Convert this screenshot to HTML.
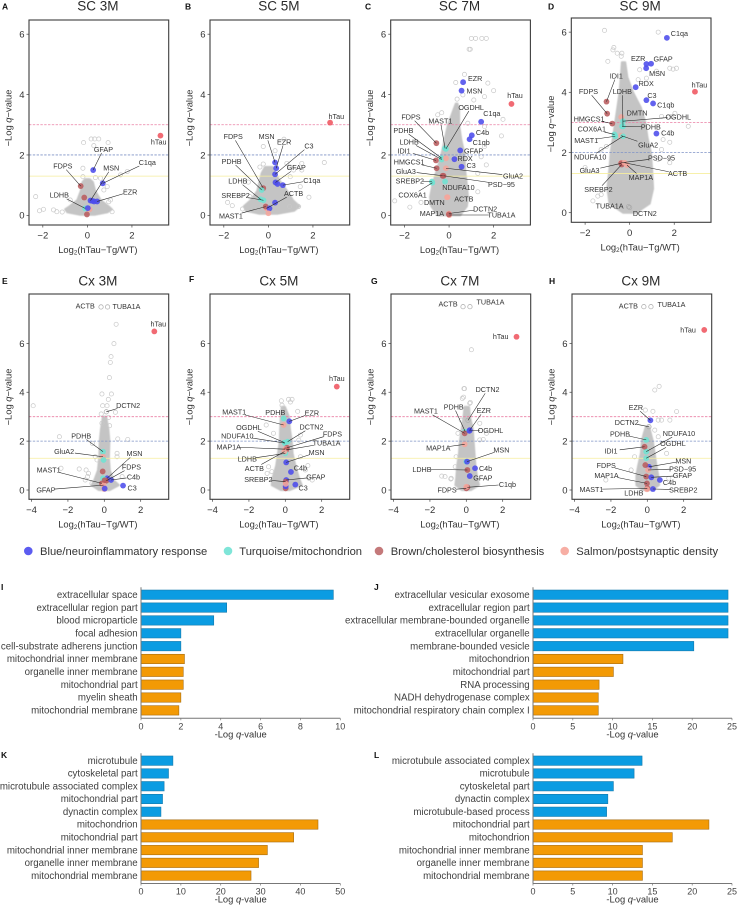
<!DOCTYPE html>
<html lang="en"><head><meta charset="utf-8"><title>Volcano plots and GO enrichment</title>
<style>html,body{margin:0;padding:0;background:#fff}svg{display:block}text{font-family:"Liberation Sans",sans-serif}</style>
</head><body>
<svg id="fig" xmlns="http://www.w3.org/2000/svg" width="738" height="906" viewBox="0 0 738 906">
<defs><filter id="soft" x="-20%" y="-20%" width="140%" height="140%"><feGaussianBlur stdDeviation="0.6"/></filter></defs>
<g font-size="11.2" fill="#333">
<circle cx="28.3" cy="551" r="4.3" fill="#5c5cf0"/>
<text x="40" y="555">Blue/neuroinflammatory response</text>
<circle cx="228" cy="551" r="4.3" fill="#7fe5d8"/>
<text x="239.3" y="555">Turquoise/mitochondrion</text>
<circle cx="379" cy="551" r="4.3" fill="#c4797a"/>
<text x="390.7" y="555">Brown/cholesterol biosynthesis</text>
<circle cx="564.7" cy="551" r="4.3" fill="#f7aea4"/>
<text x="576.3" y="555">Salmon/postsynaptic density</text>
</g>
</svg>
<script>
/* ---------- shared axis values ---------- */
const xTicksSC = [-2, 0, 2];
const xTicksCx = [-4, -2, 0, 2];
const yTicks = [0, 2, 4, 6];
const thresholds = [3, 2, 1.3];

/* ---------- Panel A: SC 3M ---------- */
const A_genes = ["GFAP","MSN","C1qa","EZR","FDPS","","LDHB","","","","","","hTau"];
const A_x = [.26,.14,.69,.44,-.3,-.14,-.1,.1,-.02,.02,.3,.22,3.28];
const A_q = [1.5,.49,1.06,.46,.97,.59,.23,.2,.03,.24,.46,.48,2.64];
const A_mod = ["b","b","b","b","r","r","t","s","r","b","b","b","h"];
const A_labelX = [.72,1.07,2.69,1.92,-1.1,null,-1.26,null,null,null,null,null,3.2];
const A_labelQ = [2.19,1.57,1.76,.78,1.64,null,.67,null,null,null,null,null,2.43];
const A_openX = [.17,.33,.51,-.17,.93,.29,1.79,1.49,-.2,-.2,-2.32,-2.15,-1.97,-1.52,-1.37,-1.13,-.77,1.11,.96,1.04,.74,.89,.59,.36];
const A_openQ = [2.53,2.53,2.53,2.41,2.41,2.31,1.45,1.34,1.56,1.28,.62,.15,.2,.18,.12,.11,.51,.12,.45,.51,.84,.95,1.23,1.25];
const A_cloudQ = [.02,.1,.2,.3,.5,.8,1.1,1.2];
const A_cloudL = [-.35,-.9,-1,-.8,-.45,-.3,-.22,-.1];
const A_cloudR = [.35,.9,1.1,.95,.6,.35,.25,.1];

/* ---------- Panel B: SC 5M ---------- */
const B_genes = ["FDPS","MSN","EZR","C3","GFAP","C1qa","ACTB","PDHB","LDHB","SREBP2","MAST1","","","","","hTau"];
const B_x = [-.23,.3,.35,.3,.32,.65,-.08,-.3,-.35,-.22,-.12,.41,.3,.05,0,2.77];
const B_q = [.9,1.75,1.56,1.36,1.09,1,.23,.84,.53,.5,.29,1.04,.42,.23,.07,3.07];
const B_mod = ["r","b","b","b","b","b","s","t","t","t","r","b","b","b","s","h"];
const B_labelX = [-1.58,-.08,.71,1.82,1.25,1.95,1.13,-1.65,-1.37,-1.47,-1.68,null,null,null,null,3.05];
const B_labelQ = [2.61,2.61,2.44,2.3,1.58,1.16,.73,1.79,1.14,.66,-.02,null,null,null,null,3.28];
const B_openX = [-.23,.3,.7,2.51,-.23,-.38,1.5,1.5,1.43,1.82,1.35,-1.83,-1.62,-1.16,.98,.83,.98,1.13,-.9,-.83,.95];
const B_openQ = [2.28,2.14,2.52,1.75,1.7,1.6,1.72,1.5,.95,.6,.29,.43,.32,.21,1.28,1.72,1.6,1.5,1.1,.62,.29];
const B_cloudQ = [.05,.15,.3,.5,.8,1.1,1.4,1.6];
const B_cloudL = [-.4,-1,-1.1,-.8,-.5,-.4,-.3,-.15];
const B_cloudR = [.4,1.15,1.4,1.1,.85,.55,.3,.2];

/* ---------- Panel C: SC 7M ---------- */
const C_genes = ["EZR","MSN","C1qa","C4b","C1qb","GFAP","RDX","C3","FDPS","MAST1","OGDHL","PDHB","LDHB","IDI1","HMGCS1","GluA3","GluA2","PSD\u221295","SREBP2","NDUFA10","COX6A1","DMTN","ACTB","DCTN2","TUBA1A","MAP1A","","hTau"];
const C_x = [.63,.56,1.44,1.02,.92,.5,.24,.56,-.57,-.18,-.14,-.33,-.33,-.59,-.56,-.29,-.14,-.25,-.77,-.18,-.75,-.09,-.07,-.01,.01,-.01,-.14,2.8];
const C_q = [4.41,4.13,3.1,2.65,2.52,2.15,1.86,1.61,2.39,2.22,2.2,1.89,1.85,1.82,1.56,1.31,1.56,1.31,1.12,1.12,1.08,.6,.6,.06,.01,.03,1.89,3.69];
const C_mod = ["b","b","b","b","b","b","b","b","r","t","t","t","t","r","r","r","s","r","t","t","t","s","s","s","s","r","s","h"];
const C_labelX = [1.17,1.14,1.92,1.5,1.44,1.1,.72,.99,-1.71,-.39,.99,-2.05,-1.79,-2.02,-1.79,-1.94,2.87,2.35,-1.76,.42,-1.64,-.66,.66,1.62,2.35,-.77,null,2.96];
const C_labelQ = [4.53,4.12,3.38,2.75,2.41,2.14,1.89,1.66,3.26,3.12,3.58,2.82,2.44,2.14,1.77,1.46,1.31,1.03,1.14,.93,.67,.43,.54,.22,.01,.07,null,3.97];
const C_openX = [1,1.19,1.47,1.67,.95,.9,.69,.3,1.74,2,.36,1.11,1.59,.62,2.42,2.35,-.33,-.51,.84,1.59,-2.44,-1.76,-1.26,1.44,1.59,1.67,1.29,1.29];
const C_openQ = [5.86,5.86,5.86,5.86,5.5,5.5,4.67,4.4,4.38,4.13,3.85,3.82,3.93,3.99,3.18,2.63,3.4,3.33,3.05,2.94,.48,.27,.43,1.94,2.28,1.67,1.39,.78];
const C_cloudQ = [0,.3,.6,1,1.5,2,2.5,3,3.5,3.7];
const C_cloudL = [-.5,-.8,-.85,-.75,-.55,-.35,-.2,-.05,.2,.3];
const C_cloudR = [.5,.8,.85,.8,.72,.7,.55,.45,.45,.38];

/* ---------- Panel D: SC 9M ---------- */
const D_genes = ["C1qa","GFAP","EZR","MSN","RDX","C3","C1qb","C4b","hTau","IDI1","FDPS","HMGCS1","COX6A1","MAST1","LDHB","DMTN","OGDHL","PDHB","GluA2","NDUFA10","PSD\u221295","GluA3","SREBP2","MAP1A","ACTB","TUBA1A","DCTN2"];
const D_x = [1.67,.96,.75,.74,.27,.75,1.05,1.2,2.93,-1.04,-1.01,-.78,-.68,-.65,-.3,-.38,-.3,-.34,-.38,-.3,-.38,-.38,-.36,-.12,-.23,-.05,0];
const D_q = [5.81,4.95,4.94,4.8,4.17,3.74,3.63,2.63,4.02,3.69,3.29,2.96,2.6,2.54,2.87,3.18,3.04,2.87,2.56,2.54,1.66,1.64,1.6,1.58,1.66,.2,.17];
const D_mod = ["b","b","b","b","b","b","b","b","h","r","r","r","t","t","t","s","t","t","s","t","s","r","r","s","s","o","o"];
const D_labelX = [2.23,1.5,.38,1.23,.74,1,1.62,1.71,3.13,-.6,-1.85,-1.82,-1.7,-1.95,-.33,.33,2.18,.95,.83,-1.77,1.43,-1.8,-1.4,.5,2.15,-.9,.68];
const D_labelQ = [5.96,5.11,5.12,4.63,4.3,3.9,3.58,2.65,4.24,4.55,4.03,3.12,2.78,2.4,4.03,3.31,3.19,2.85,2.25,1.85,1.82,1.4,.77,1.18,1.3,.22,-.02];
const D_openX = [-1.13,-.75,-.71,-.56,-.98,1.28,1.8,2.1,1.95,1.2,2.63,1.8,1.8,-2,-1.43,-1.65,-1.28,-.38,-.35,.38,.45,.75,1.43,2.03,1.88,-1.05,-1.28,1.5,1.43,1.28];
const D_openQ = [6.06,5.41,5.49,5.3,5.03,6,4.8,4.8,4.77,4.7,2.87,2.34,1.66,1.5,.55,.39,.6,5.2,5.3,4.42,4.75,4.47,3.2,3.3,3.2,2.2,2.1,2.43,2.1,1.77];
const D_cloudQ = [0,.3,.8,1.5,2,2.5,3,3.5,4,4.5,5];
const D_cloudL = [-.3,-.9,-1,-.9,-.85,-.75,-.65,-.55,-.45,-.4,-.35];
const D_cloudR = [.3,.9,1.05,1,.95,.8,.7,.5,.15,-.1,-.2];

/* ---------- Panel E: Cx 3M ---------- */
const E_genes = ["ACTB","TUBA1A","DCTN2","hTau","PDHB","GluA2","MSN","FDPS","C4b","C3","MAST1","GFAP","","","","","",""];
const E_x = [-.18,.18,.11,2.75,-.07,-.07,.15,.11,.37,1.03,-.13,-.04,-.04,-.09,0,-.07,.02,.02];
const E_q = [7.49,7.49,3.2,6.49,1.57,1.36,.48,.38,.41,.18,.27,.2,1.23,.76,.04,.48,.06,.4];
const E_mod = ["o","o","o","h","t","s","b","r","b","b","r","s","t","r","s","t","b","r"];
const E_labelX = [-1.05,1.22,1.31,2.97,-1.27,-2.21,1.66,1.49,1.6,1.53,-3.06,-3.21,null,null,null,null,null,null];
const E_labelQ = [7.53,7.52,3.47,6.79,2.22,1.57,1.49,.95,.53,.08,.83,.01,null,null,null,null,null,null];
const E_openX = [.65,.53,.37,.33,.28,-.13,.39,.22,-3.91,-.09,.15,-.17,.61,.24,-.13,.29,-2.47,-.65,.74,1.29,.7,.7,-2.38,-1.38,-1,-.87,-.92,-1.05,-.68,-.4,-.5,.98];
const E_openQ = [6.78,5.99,5.46,5.22,4.6,3.93,3.93,3.71,3.45,3.45,3.45,3.11,3.18,2.97,2.73,2.63,2.18,1.91,2.09,2.07,1.5,1.36,.89,.86,.82,.68,.55,.41,.27,1.23,1.36,.55];
const E_cloudQ = [0,.2,.4,.8,1.3,2,2.5,3];
const E_cloudL = [-.3,-.7,-.55,-.35,-.28,-.25,-.18,-.08];
const E_cloudR = [.3,.8,.5,.3,.25,.28,.22,.1];

/* ---------- Panel F: Cx 5M ---------- */
const F_genes = ["hTau","MAST1","PDHB","EZR","OGDHL","DCTN2","NDUFA10","FDPS","MAP1A","TUBA1A","LDHB","MSN","ACTB","C4b","GFAP","SREBP2","C3","","",""];
const F_x = [2.83,-.09,-.09,.22,-.04,.13,-.02,.09,0,.05,0,.05,-.05,.31,.05,.02,.55,.02,.02,.02];
const F_q = [4.23,2.66,2.93,2.81,1.94,1.98,1.92,1.73,1.67,1.64,1.5,1.13,1.57,.74,.41,.34,.22,.07,.15,.25];
const F_mod = ["h","s","t","b","t","t","t","r","s","r","t","b","s","b","b","r","b","r","b","s"];
const F_labelX = [2.83,-2.81,-.55,1.46,-2,1.44,-2.64,2.59,-3.11,2.27,-2.09,1.72,-1.7,.83,1.68,-1.48,.98,null,null,null];
const F_labelQ = [4.57,3.19,3.17,3.15,2.56,2.58,2.22,2.29,1.77,1.92,1.27,1.54,.89,.91,.53,.44,.08,null,null,null];
const F_openX = [-.22,.18,.37,.28,-.18,.68,-1.05,-.65,.83,.74,-.92,-.74,1.24,1.1,1.48,1.3,-1,.83];
const F_openQ = [3.65,3.71,3.71,3.6,3.47,3.22,2.66,2.32,2.25,2.04,.95,.75,1,.82,.41,.48,.68,1.36];
const F_cloudQ = [0,.2,.5,1,1.5,2,2.5,3,3.4];
const F_cloudL = [-.25,-.75,-.7,-.5,-.4,-.3,-.28,-.25,-.2];
const F_cloudR = [.25,.9,.75,.55,.4,.35,.25,.2,-.02];

/* ---------- Panel G: Cx 7M ---------- */
const G_genes = ["","hTau","ACTB","TUBA1A","DCTN2","EZR","PDHB","MAST1","OGDHL","MAP1A","MSN","LDHB","C4b","GFAP","C1qb","FDPS",""];
const G_x = [0,2.76,-.18,.2,.09,.19,-.06,-.09,.17,-.09,.04,.06,.48,.19,.06,0,0];
const G_q = [1.16,6.27,7.5,7.5,2.85,2.45,2.39,2.32,2.42,1.87,1.16,.82,.89,.57,.11,.07,.13];
const G_mod = ["t","h","o","o","o","b","t","r","b","s","b","r","b","b","r","r","s"];
const G_labelX = [null,1.89,-1,1.33,1.17,.96,-.69,-2.22,1.33,-1.54,1.93,-2.44,1.06,.91,2.26,-1.06,null];
const G_labelQ = [null,6.29,7.62,7.69,4.11,3.25,3.41,3.23,2.44,1.72,1.64,.85,.89,.49,.23,0,null];
const G_openX = [.28,-.13,-.1,-.15,-.22,.19,.22,-.28,-1.35,-1.17,-.83,-.85,1.11,.93,.74,-.46,-.61,-.56,.74];
const G_openQ = [5.74,4.15,4.15,3.8,3.75,3.55,3.58,2.86,.57,.55,.48,.45,2.32,2.07,2.73,2.32,.95,1.36,2.05];
const G_cloudQ = [0,.2,.5,1,1.5,2,2.5,3,3.4];
const G_cloudL = [-.25,-.6,-.55,-.5,-.4,-.35,-.25,-.15,-.1];
const G_cloudR = [.25,.7,.6,.5,.45,.4,.35,.2,.15];

/* ---------- Panel H: Cx 9M ---------- */
const H_genes = ["hTau","ACTB","TUBA1A","EZR","DCTN2","PDHB","NDUFA10","IDI1","OGDHL","MSN","PSD\u221295","FDPS","GFAP","MAP1A","C4b","MAST1","LDHB","SREBP2",""];
const H_x = [3.13,-.19,.2,.17,.09,-.06,-.06,-.15,-.06,.09,.04,-.06,.22,-.02,.69,0,-.02,.31,-.11];
const H_q = [6.55,7.5,7.5,2.85,2.59,2.05,1.57,1.77,1.3,.95,.82,.55,.52,.27,.41,.07,.03,.04,1.02];
const H_mod = ["h","o","o","b","o","t","t","r","t","b","s","r","b","r","b","r","s","b","r"];
const H_labelX = [2.24,-1.04,1.33,-.63,-1.13,-1.5,1.74,-2,1.41,1.98,1.94,-2.26,1.93,-2.24,1.22,-3.07,-.74,1.98,null];
const H_labelQ = [6.55,7.53,7.6,3.38,2.77,2.29,2.32,1.6,1.9,1.19,.87,1,.59,.6,.31,.03,-.12,.01,null];
const H_openX = [.41,.65,1.61,1.24,.78,.6,.31,-.11,1.06,-2.28,1.18,-.89,-.7,.6,.41];
const H_openQ = [4.09,4.24,3.21,2.86,2.86,2.86,3.22,3.27,1.5,.41,.48,.82,1.36,2.18,2.45];
const H_cloudQ = [0,.2,.6,1,1.5,2,2.3,2.6];
const H_cloudL = [-.25,-.6,-.6,-.5,-.35,-.3,-.2,-.08];
const H_cloudR = [.25,.65,.6,.5,.4,.3,.2,.1];

/* ---------- Bar charts ---------- */
const I_categories = ["extracellular space","extracellular region part","blood microparticle","focal adhesion","cell-substrate adherens junction","mitochondrial inner membrane","organelle inner membrane","mitochondrial part","myelin sheath","mitochondrial membrane"];
const I_values = [9.65,4.3,3.65,2,2,2.18,2.12,2.12,2,1.9];
const I_ticks = [0,2,4,6,8,10];
const J_categories = ["extracellular vesicular exosome","extracellular region part","extracellular membrane-bounded organelle","extracellular organelle","membrane-bounded vesicle","mitochondrion","mitochondrial part","RNA processing","NADH dehydrogenase complex","mitochondrial respiratory chain complex I"];
const J_values = [24.5,24.5,24.5,24.5,20.2,11.3,10.1,8.3,8.2,8.2];
const J_ticks = [0,5,10,15,20,25];
const K_categories = ["microtubule","cytoskeletal part","microtubule associated complex","mitochondrial part","dynactin complex","mitochondrion","mitochondrial part","mitochondrial inner membrane","organelle inner membrane","mitochondrial membrane"];
const K_values = [8,6.9,5.8,5.4,5,44.4,38.3,31.7,29.5,27.6];
const K_ticks = [0,10,20,30,40,50];
const L_categories = ["microtubule associated complex","microtubule","cytoskeletal part","dynactin complex","microtubule-based process","mitochondrial part","mitochondrion","mitochondrial inner membrane","organelle inner membrane","mitochondrial membrane"];
const L_values = [13.7,12.7,10.1,9.4,9.25,22.1,17.5,13.75,13.75,13.75];
const L_ticks = [0,5,10,15,20,25];
const barGroups = ["up","up","up","up","up","down","down","down","down","down"];

/* ---------- layout (not data) ---------- */
const SVGNS = "http://www.w3.org/2000/svg";
const fig = document.getElementById("fig");
function mk(tag, attrs, parent, txt) {
  const e = document.createElementNS(SVGNS, tag);
  for (const k in attrs) e.setAttribute(k, attrs[k]);
  if (txt !== undefined) e.textContent = txt;
  (parent || fig).appendChild(e);
  return e;
}
const modFill = {b:"#4c4cec", t:"#6fe3d3", r:"#b95c5f", s:"#f5a69c", h:"#ef5560"};
const lineColor = ["#ea7fa4","#7f93c6","#f6ee9e"];
const fmt = v => String(v).replace("-", "\u2212");

function volcano(p) {
  const w = 139.7;
  const sx = v => p.left + (v - p.xd[0]) / (p.xd[1] - p.xd[0]) * w;
  const sy = v => p.top + p.h - (v - p.yd[0]) / (p.yd[1] - p.yd[0]) * p.h;
  const bottom = p.top + p.h;
  const g = mk("g", {}, fig);
  
  

  const letter = mk("text", {x:p.lx, y:p.ly, "font-size":8.5, "font-weight":"bold", fill:"#111"}, g, p.letter);
  
  
  const title = mk("text", {x:p.left + w/2 - 1, y:p.ty, "font-size":13.5, "text-anchor":"middle", fill:"#2a2a2a"}, g, p.title);
  
  

  let d = "";
  p.cq.forEach((q, i) => { d += (i ? "L" : "M") + sx(p.cl[i]).toFixed(1) + " " + sy(q).toFixed(1); });
  for (let i = p.cq.length - 1; i >= 0; i--) d += "L" + sx(p.cr[i]).toFixed(1) + " " + sy(p.cq[i]).toFixed(1);
  const cloud = mk("path", {d:d + "Z", fill:"#c4c4c4", stroke:"#c4c4c4", "stroke-width":2, "stroke-linejoin":"round", filter:"url(#soft)"}, g);
  
  

  p.ox.forEach((x, i) => {
    const o = mk("circle", {cx:sx(x), cy:sy(p.oq[i]), r:2.1, fill:"none", stroke:"#c8c8c8", "stroke-width":.7}, g);
    
    
  });

  thresholds.forEach((t, i) => {
    const l = mk("line", {x1:p.left, x2:p.left + w, y1:sy(t), y2:sy(t), stroke:lineColor[i], "stroke-width":.8, "stroke-dasharray":i === 2 ? "none" : "2.4 1.4"}, g);
    
    
  });

  p.x.forEach((x, i) => {
    const m = p.mod[i];
    let c;
    if (m === "o") {
      c = mk("circle", {cx:sx(x), cy:sy(p.q[i]), r:2.2, fill:"none", stroke:"#aaa", "stroke-width":.7}, g);
    } else {
      c = mk("circle", {cx:sx(x), cy:sy(p.q[i]), r:2.9, fill:modFill[m], "fill-opacity":.88}, g);
    }
    
    
  });

  p.genes.forEach((name, i) => {
    if (!name) return;
    const px = sx(p.x[i]), py = sy(p.q[i]);
    const lx = sx(p.lxv[i]), ly = sy(p.lqv[i]);
    const hw = name.length * 1.95 + 1, hh = 3.8;
    const dx = px - lx, dy = py - ly;
    const t = Math.min(hw / Math.max(Math.abs(dx), .01), hh / Math.max(Math.abs(dy), .01));
    if (t < 1) {
      const ex = lx + dx * t, ey = ly + dy * t;
      if (Math.hypot(px - ex, py - ey) > 9) {
        const ln = mk("line", {x1:ex, y1:ey, x2:px, y2:py, stroke:"#222", "stroke-width":.55}, g);
        
        
      }
    }
    const tx = mk("text", {x:lx, y:ly + 2.6, "font-size":7.2, "text-anchor":"middle", fill:"#333"}, g, name);
    
    
  });

  const frame = mk("rect", {x:p.left, y:p.top, width:w, height:p.h, fill:"none", stroke:"#3c3c3c", "stroke-width":1.1}, g);
  
  

  p.xt.forEach(v => {
    const t = mk("line", {x1:sx(v), x2:sx(v), y1:bottom, y2:bottom + 2.5, stroke:"#444", "stroke-width":.7}, g);
    
    
    const l = mk("text", {x:sx(v), y:bottom + 13.6, "font-size":9.5, "text-anchor":"middle", fill:"#333"}, g, fmt(v));
    
    
  });
  yTicks.forEach(v => {
    const t = mk("line", {x1:p.left - 2.5, x2:p.left, y1:sy(v), y2:sy(v), stroke:"#444", "stroke-width":.7}, g);
    
    
    const l = mk("text", {x:p.left - 4.5, y:sy(v) + 3.4, "font-size":9.5, "text-anchor":"end", fill:"#333"}, g, String(v));
    
    
  });

  const xt = mk("text", {x:p.left + w/2 - 1, y:bottom + 28, "font-size":9.4, "text-anchor":"middle", fill:"#333"}, g);
  
  
  mk("tspan", {}, xt, "Log");
  mk("tspan", {"font-size":6.2, dy:1.5}, xt, "2");
  mk("tspan", {dy:-1.5}, xt, "(hTau\u2212Tg/WT)");

  const cy = p.yc;
  const yt = mk("text", {transform:"translate(" + (p.left - 17.5) + "," + cy + ") rotate(-90)", "font-size":9.4, "text-anchor":"middle", fill:"#333"}, g);
  
  
  mk("tspan", {}, yt, "\u2212Log ");
  mk("tspan", {"font-style":"italic"}, yt, "q");
  mk("tspan", {}, yt, "\u2212value");
}

const sd = [-2.62, 3.65], cd = [-4.14, 3.54], qs = [-.32, 6.47], qc = [-.38, 8.02];
volcano({key:"sc-3m",letter:"A",title:"SC 3M",lx:2,ly:9.5,ty:10.5,left:29,top:20,h:205,yc:118,xd:sd,yd:qs,xt:xTicksSC,genes:A_genes,x:A_x,q:A_q,mod:A_mod,lxv:A_labelX,lqv:A_labelQ,ox:A_openX,oq:A_openQ,cq:A_cloudQ,cl:A_cloudL,cr:A_cloudR});
volcano({key:"sc-5m",letter:"B",title:"SC 5M",lx:185,ly:9.5,ty:10.5,left:210,top:20,h:205,yc:118,xd:sd,yd:qs,xt:xTicksSC,genes:B_genes,x:B_x,q:B_q,mod:B_mod,lxv:B_labelX,lqv:B_labelQ,ox:B_openX,oq:B_openQ,cq:B_cloudQ,cl:B_cloudL,cr:B_cloudR});
volcano({key:"sc-7m",letter:"C",title:"SC 7M",lx:365,ly:9.5,ty:10.5,left:390.7,top:20,h:205,yc:118,xd:sd,yd:qs,xt:xTicksSC,genes:C_genes,x:C_x,q:C_q,mod:C_mod,lxv:C_labelX,lqv:C_labelQ,ox:C_openX,oq:C_openQ,cq:C_cloudQ,cl:C_cloudL,cr:C_cloudR});
volcano({key:"sc-9m",letter:"D",title:"SC 9M",lx:548,ly:9.5,ty:10.5,left:571.3,top:18,h:204.3,yc:124,xd:sd,yd:qs,xt:xTicksSC,genes:D_genes,x:D_x,q:D_q,mod:D_mod,lxv:D_labelX,lqv:D_labelQ,ox:D_openX,oq:D_openQ,cq:D_cloudQ,cl:D_cloudL,cr:D_cloudR});
volcano({key:"cx-3m",letter:"E",title:"Cx 3M",lx:2,ly:284,ty:285.5,left:29,top:294,h:205.3,yc:397,xd:cd,yd:qc,xt:xTicksCx,genes:E_genes,x:E_x,q:E_q,mod:E_mod,lxv:E_labelX,lqv:E_labelQ,ox:E_openX,oq:E_openQ,cq:E_cloudQ,cl:E_cloudL,cr:E_cloudR});
volcano({key:"cx-5m",letter:"F",title:"Cx 5M",lx:189,ly:282,ty:285.5,left:210,top:294,h:205.3,yc:397,xd:cd,yd:qc,xt:xTicksCx,genes:F_genes,x:F_x,q:F_q,mod:F_mod,lxv:F_labelX,lqv:F_labelQ,ox:F_openX,oq:F_openQ,cq:F_cloudQ,cl:F_cloudL,cr:F_cloudR});
volcano({key:"cx-7m",letter:"G",title:"Cx 7M",lx:371,ly:284,ty:285.5,left:391,top:294,h:205.3,yc:397,xd:cd,yd:qc,xt:xTicksCx,genes:G_genes,x:G_x,q:G_q,mod:G_mod,lxv:G_labelX,lqv:G_labelQ,ox:G_openX,oq:G_openQ,cq:G_cloudQ,cl:G_cloudL,cr:G_cloudR});
volcano({key:"cx-9m",letter:"H",title:"Cx 9M",lx:549,ly:284,ty:285.5,left:572,top:294,h:205.3,yc:397,xd:cd,yd:qc,xt:xTicksCx,genes:H_genes,x:H_x,q:H_q,mod:H_mod,lxv:H_labelX,lqv:H_labelQ,ox:H_openX,oq:H_openQ,cq:H_cloudQ,cl:H_cloudL,cr:H_cloudR});

function bars(p) {
  const g = mk("g", {}, fig);
  
  
  const dmax = p.ticks[p.ticks.length - 1];
  const sx = v => p.x0 + v / dmax * p.w;
  const step = (p.axisY - 1.5 - p.top) / p.cats.length;
  const letter = mk("text", {x:p.lx, y:p.ly, "font-size":8.5, "font-weight":"bold", fill:"#111"}, g, p.letter);
  
  
  p.vals.forEach((v, i) => {
    const cy = p.top + (i + .5) * step;
    const up = barGroups[i] === "up";
    const r = mk("rect", {x:sx(0), y:cy - 4.7, width:sx(v) - sx(0), height:9.4, fill:up ? "#0b9ce2" : "#f39a05", stroke:up ? "#1579ab" : "#a66c12", "stroke-width":.6}, g);
    
    
    const l = mk("text", {x:sx(0) - 3.3, y:cy + 3.2, "font-size":9.7, "text-anchor":"end", fill:"#404040"}, g, p.cats[i]);
    
    
  });
  const ya = mk("line", {x1:p.x0, x2:p.x0, y1:p.top - 1, y2:p.axisY, stroke:"#777", "stroke-width":1}, g);
  
  
  const xa = mk("line", {x1:p.x0, x2:p.x0 + p.w, y1:p.axisY, y2:p.axisY, stroke:"#777", "stroke-width":1}, g);
  
  
  p.ticks.forEach(v => {
    const t = mk("line", {x1:sx(v), x2:sx(v), y1:p.axisY, y2:p.axisY + 2, stroke:"#777", "stroke-width":.7}, g);
    
    
    const l = mk("text", {x:sx(v), y:p.axisY + 11, "font-size":9, "text-anchor":"middle", fill:"#444"}, g, String(v));
    
    
  });
  const tt = mk("text", {x:p.x0 + p.w/2, y:p.axisY + 19, "font-size":9.4, "text-anchor":"middle", fill:"#333"}, g);
  
  
  mk("tspan", {}, tt, "-Log ");
  mk("tspan", {"font-style":"italic"}, tt, "q");
  mk("tspan", {}, tt, "-value");
}
bars({letter:"I",lx:1,ly:590,x0:141,w:199.3,top:588.3,axisY:718.3,cats:I_categories,vals:I_values,ticks:I_ticks});
bars({letter:"J",lx:374,ly:590,x0:533,w:199,top:588.3,axisY:718.3,cats:J_categories,vals:J_values,ticks:J_ticks});
bars({letter:"K",lx:1,ly:758,x0:141,w:199.3,top:754.3,axisY:883.5,cats:K_categories,vals:K_values,ticks:K_ticks});
bars({letter:"L",lx:374,ly:758,x0:533,w:199,top:754.3,axisY:883.5,cats:L_categories,vals:L_values,ticks:L_ticks});
</script>
</body></html>
